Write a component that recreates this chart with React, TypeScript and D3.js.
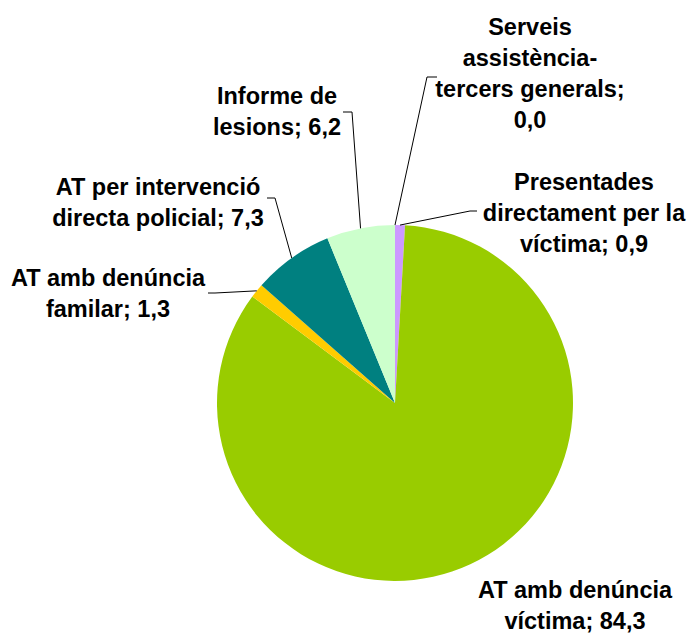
import React from "react";
import * as d3 from "d3";

const categories = [
  "Presentades directament per la víctima",
  "AT amb denúncia víctima",
  "AT amb denúncia familar",
  "AT per intervenció directa policial",
  "Informe de lesions",
  "Serveis assistència-tercers generals",
];
const values = [0.9, 84.3, 1.3, 7.3, 6.2, 0.0];
const valueLabels = ["0,9", "84,3", "1,3", "7,3", "6,2", "0,0"];
const colors = ["#CC99FF", "#99CC00", "#FFCC00", "#008080", "#CCFFCC", "#9999FF"];

const labelLines = [
  ["Presentades", "directament per la", "víctima; 0,9"],
  ["AT amb denúncia", "víctima; 84,3"],
  ["AT amb denúncia", "familar; 1,3"],
  ["AT per intervenció", "directa policial; 7,3"],
  ["Informe de", "lesions; 6,2"],
  ["Serveis", "assistència-", "tercers generals;", "0,0"],
];
const labelPos = [
  { x: 584, y: 190 },
  { x: 575, y: 598 },
  { x: 108, y: 286 },
  { x: 158, y: 195 },
  { x: 277, y: 104 },
  { x: 530, y: 35 },
];
const leaders: ([number, number][] | null)[] = [
  [[470, 211], [477, 211]],
  null,
  [[215, 293], [208, 293]],
  [[275, 198], [267, 198]],
  [[352, 112], [343, 112]],
  [[427, 77], [437, 77]],
];

const W = 692;
const H = 635;
const cx = 395;
const cy = 403;
const R = 178;
const lineH = 31;

export default function App() {
  const pie = d3.pie<number>().sort(null).value((d) => d);
  const arcs = pie(values);
  const arc = d3.arc<d3.PieArcDatum<number>>().innerRadius(0).outerRadius(R);

  return (
    <svg
      width={W}
      height={H}
      style={{ position: "absolute", left: 0, top: 0, background: "#fff" }}
      fontFamily="'Liberation Sans', Arial, sans-serif"
    >
      <g transform={`translate(${cx},${cy})`}>
        {arcs.map((a, i) =>
          a.endAngle - a.startAngle > 0 ? (
            <path key={i} d={arc(a) || ""} fill={colors[i]} />
          ) : null
        )}
      </g>
      {arcs.map((a, i) => {
        const pts = leaders[i];
        if (!pts) return null;
        const mid = (a.startAngle + a.endAngle) / 2;
        const sx = cx + R * Math.sin(mid);
        const sy = cy - R * Math.cos(mid);
        const line = d3.line()([[sx, sy], ...pts]);
        return (
          <path key={"l" + i} d={line || ""} fill="none" stroke="#000" strokeWidth={1} />
        );
      })}
      {labelLines.map((lines, i) => (
        <text
          key={"t" + i}
          textAnchor="middle"
          fontWeight="bold"
          fontSize={23.5}
          fill="#000"
        >
          {lines.map((ln, j) => (
            <tspan key={j} x={labelPos[i].x} y={labelPos[i].y + j * lineH}>
              {ln}
            </tspan>
          ))}
        </text>
      ))}
    </svg>
  );
}
